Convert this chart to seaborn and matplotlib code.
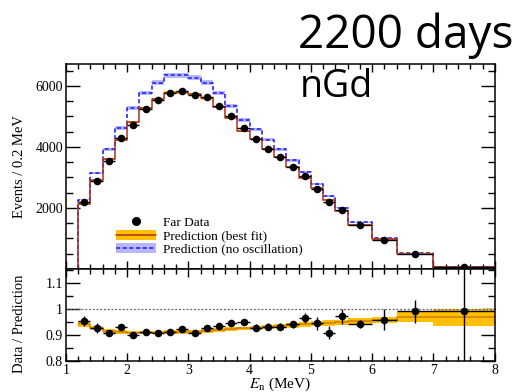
import numpy as np
import pandas as pd
import matplotlib
matplotlib.use("Agg")
import matplotlib.pyplot as plt
import seaborn as sns
from matplotlib.patches import Patch
from matplotlib.lines import Line2D
from matplotlib.ticker import MultipleLocator, FixedLocator

# ---------------- data ----------------
bin_edges = [1.2, 1.4, 1.6, 1.8, 2.0, 2.2, 2.4, 2.6, 2.8, 3.0, 3.2, 3.4, 3.6, 3.8,
             4.0, 4.2, 4.4, 4.6, 4.8, 5.0, 5.2, 5.4, 5.6, 6.0, 6.4, 7.0, 8.0]
far_data = [2183, 2870, 3546, 4288, 4732, 5245, 5539, 5758, 5823, 5693, 5648, 5353, 5016,
            4624, 4250, 3938, 3653, 3327, 3055, 2631, 2183, 1922, 1454, 954, 484, 72]
best_fit = [2135, 2905, 3600, 4225, 4805, 5260, 5560, 5780, 5790, 5725, 5595, 5300, 4935,
            4530, 4250, 3945, 3670, 3335, 2990, 2640, 2275, 1910, 1455, 965, 497, 73]
no_osc = [2271, 3143, 3928, 4624, 5288, 5778, 6105, 6346, 6346, 6268, 6105, 5758, 5343,
          4886, 4570, 4232, 3928, 3556, 3176, 2794, 2402, 2010, 1529, 1007, 516, 76]
no_osc_err_rel = [0.012] * 26

ratio_data = [0.954, 0.926, 0.907, 0.931, 0.899, 0.912, 0.909, 0.912, 0.921, 0.908, 0.926,
              0.934, 0.945, 0.949, 0.928, 0.932, 0.932, 0.941, 0.964, 0.945, 0.909, 0.971,
              0.943, 0.958, 0.990, 0.992]
ratio_err = [0.020, 0.018, 0.012, 0.012, 0.010, 0.010, 0.010, 0.010, 0.010, 0.010, 0.010,
             0.010, 0.010, 0.012, 0.012, 0.012, 0.012, 0.014, 0.020, 0.025, 0.025, 0.030,
             0.015, 0.040, 0.045, 0.400]
fit_ratio = [0.942, 0.926, 0.916, 0.912, 0.909, 0.909, 0.909, 0.910, 0.911, 0.913, 0.916,
             0.919, 0.922, 0.925, 0.928, 0.931, 0.934, 0.937, 0.940, 0.943, 0.946, 0.948,
             0.952, 0.957, 0.968, 0.968]
fit_ratio_err = [0.013, 0.008, 0.007, 0.007, 0.007, 0.007, 0.007, 0.007, 0.007, 0.007, 0.007,
                 0.007, 0.007, 0.007, 0.008, 0.008, 0.008, 0.009, 0.009, 0.010, 0.010, 0.011,
                 0.012, 0.013, 0.020, 0.032]

# ---------------- style ----------------
sns.set_theme(style="ticks")
plt.rcParams['font.family'] = ['Liberation Serif', 'DejaVu Serif']
plt.rcParams['mathtext.fontset'] = 'stix'
plt.rcParams['axes.linewidth'] = 1.1
for key in ['text.color', 'axes.labelcolor', 'xtick.color', 'ytick.color',
            'xtick.labelcolor', 'ytick.labelcolor', 'axes.edgecolor']:
    plt.rcParams[key] = 'black'

edges = np.array(bin_edges)
centers = 0.5 * (edges[:-1] + edges[1:])
halfw = 0.5 * np.diff(edges)

def step_df(vals, start_zero=True):
    v = list(vals) + [vals[-1]]
    x = list(edges)
    if start_zero:
        x = [edges[0]] + x
        v = [0.0] + v
    return pd.DataFrame({"x": x, "y": v, "o": np.arange(len(x))})

def ext(vals):
    return np.append(np.asarray(vals, float), vals[-1])

fig = plt.figure(figsize=(5.23, 3.92), dpi=100)
L, R = 0.126, 0.946
ax1 = fig.add_axes([L, 0.314, R - L, 0.837 - 0.314])
ax2 = fig.add_axes([L, 0.079, R - L, 0.314 - 0.079])

orange = '#FFC000'
redline = '#B0301A'
blue = '#2525FF'
blueband = '#9A9AFF'

# ---- top panel ----
nooarr = np.array(no_osc, float)
nerr = nooarr * np.array(no_osc_err_rel)
ax1.fill_between(edges, ext(nooarr - nerr), ext(nooarr + nerr), step='post',
                 color=blueband, alpha=0.7, lw=0, zorder=1)
sns.lineplot(data=step_df(no_osc), x="x", y="y", sort=False, estimator=None,
             drawstyle='steps-post', color=blue, lw=1.2, dashes=False,
             linestyle=(0, (2.5, 1.5)), ax=ax1, zorder=2)
bf = np.array(best_fit, float)
bferr = bf * np.array(fit_ratio_err) / np.array(fit_ratio)
ax1.fill_between(edges, ext(bf - bferr), ext(bf + bferr), step='post',
                 color=orange, lw=0, zorder=3)
sns.lineplot(data=step_df(best_fit), x="x", y="y", sort=False, estimator=None,
             drawstyle='steps-post', color=redline, lw=1.1, ax=ax1, zorder=4)
ax1.errorbar(centers, far_data, xerr=halfw, yerr=np.sqrt(far_data), fmt='none',
             ecolor='black', elinewidth=1.0, zorder=5)
sns.scatterplot(x=centers, y=far_data, color='black', s=30, edgecolor='black',
                linewidth=0, ax=ax1, zorder=6)

ax1.set_xlim(1, 8)
ax1.set_ylim(0, 6720)
ax1.set_ylabel('Events / 0.2 MeV', fontsize=10.5, labelpad=4)
ax1.set_xlabel('')
ax1.yaxis.set_major_locator(FixedLocator([2000, 4000, 6000]))
ax1.yaxis.set_minor_locator(MultipleLocator(500))
ax1.xaxis.set_major_locator(MultipleLocator(1))
ax1.xaxis.set_minor_locator(MultipleLocator(0.2))
ax1.tick_params(axis='x', labelbottom=False)

handles = [
    Line2D([], [], marker='o', color='black', ls='none', markersize=5.5),
    (Patch(facecolor=orange, edgecolor='none'), Line2D([], [], color=redline, lw=1.1)),
    (Patch(facecolor=blueband, alpha=0.7, edgecolor='none'),
     Line2D([], [], color=blue, lw=1.2, ls=(0, (2.5, 1.5)))),
]
labels = ['Far Data', 'Prediction (best fit)', 'Prediction (no oscillation)']
ax1.legend(handles, labels, loc='lower left', bbox_to_anchor=(0.095, 0.02),
           frameon=False, fontsize=9.6, handlelength=3.0, handleheight=0.75,
           labelspacing=0.05, handletextpad=0.55, borderpad=0.2)

# ---- bottom panel ----
fr = np.array(fit_ratio)
fre = np.array(fit_ratio_err)
ax2.fill_between(edges, ext(fr - fre), ext(fr + fre), step='post',
                 color=orange, lw=0, zorder=1)
sns.lineplot(data=step_df(fit_ratio, start_zero=False), x="x", y="y", sort=False,
             estimator=None, drawstyle='steps-post', color='#D27A10', lw=1.1,
             ax=ax2, zorder=2)
ax2.axhline(1.0, color='#666666', ls=(0, (1.5, 1.5)), lw=0.9, zorder=2)
ax2.errorbar(centers, ratio_data, xerr=halfw, yerr=ratio_err, fmt='none',
             ecolor='black', elinewidth=1.0, zorder=4)
sns.scatterplot(x=centers, y=ratio_data, color='black', s=30, edgecolor='black',
                linewidth=0, ax=ax2, zorder=5)
ax2.set_xlim(1, 8)
ax2.set_ylim(0.8, 1.153)
ax2.yaxis.set_major_locator(FixedLocator([0.8, 0.9, 1.0, 1.1]))
ax2.yaxis.set_minor_locator(MultipleLocator(0.05))
ax2.set_yticklabels(['0.8', '0.9', '1', '1.1'])
ax2.xaxis.set_major_locator(MultipleLocator(1))
ax2.xaxis.set_minor_locator(MultipleLocator(0.2))
ax2.set_xlabel(r'$E_{\rm n}$ (MeV)', fontsize=11, labelpad=-1)
ax2.set_ylabel('Data / Prediction', fontsize=10.5, labelpad=4)

for ax in (ax1, ax2):
    ax.tick_params(which='both', direction='in', top=True, right=True,
                   labelsize=10, color='black', labelcolor='black', width=1.0, pad=2)
    ax.tick_params(axis='y', which='major', length=10)
    ax.tick_params(axis='y', which='minor', length=5)
    ax.tick_params(axis='x', which='major', length=6)
    ax.tick_params(axis='x', which='minor', length=3.5)
    for s in ax.spines.values():
        s.set_color('black')
ax1.yaxis.set_label_coords(-0.093, 0.5)
ax2.yaxis.set_label_coords(-0.093, 0.4)

fig.text(298 / 523, 1 - 48 / 392, '2200 days', fontsize=33, va='baseline', ha='left',
         color='black', family=['Open Sans', 'DejaVu Sans'])
fig.text(300 / 523, 1 - 97 / 392, 'nGd', fontsize=27, va='baseline', ha='left',
         color='black', family=['Open Sans', 'DejaVu Sans'])

fig.savefig('out.png', dpi=100)
